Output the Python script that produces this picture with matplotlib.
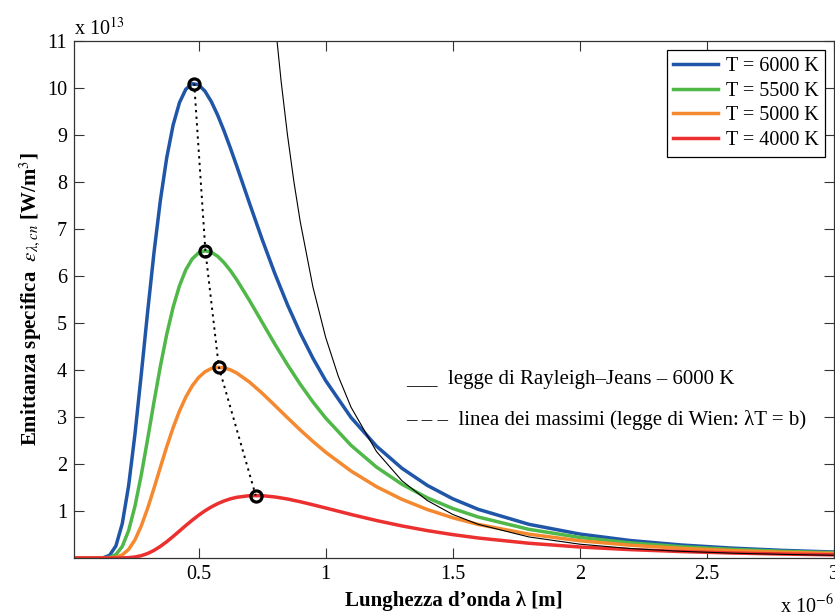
import matplotlib
matplotlib.use("Agg")
import matplotlib.pyplot as plt

plt.rcParams['font.family'] = ['Liberation Serif', 'DejaVu Serif']
plt.rcParams['mathtext.fontset'] = 'stix'

# wavelength [um] and spectral emittance [1e13 W/m^3]
lam = [0.01, 0.1, 0.125, 0.15, 0.175, 0.2, 0.225, 0.25, 0.275, 0.3, 0.325, 0.35,
       0.375, 0.4, 0.425, 0.45, 0.475, 0.5, 0.525, 0.55, 0.575, 0.6, 0.625, 0.65,
       0.7, 0.75, 0.8, 0.85, 0.9, 0.95, 1.0, 1.1, 1.2, 1.3, 1.4, 1.5, 1.6, 1.8,
       2.0, 2.2, 2.4, 2.6, 2.8, 3.0]

e6000 = [0, 0.0001, 0.0058, 0.0568, 0.258, 0.733, 1.541, 2.642, 3.924, 5.254, 6.513, 7.620,
         8.527, 9.217, 9.695, 9.980, 10.098, 10.076, 9.941, 9.719, 9.432, 9.098, 8.733, 8.349,
         7.560, 6.787, 6.059, 5.391, 4.790, 4.254, 3.778, 2.991, 2.382, 1.911, 1.546, 1.261, 1.037, 0.717,
         0.510, 0.371, 0.277, 0.210, 0.162, 0.127]
e5500 = [0, 0, 0.0010, 0.0133, 0.0741, 0.246, 0.585, 1.105, 1.776, 2.540, 3.330, 4.085,
         4.764, 5.339, 5.796, 6.137, 6.366, 6.496, 6.540, 6.511, 6.425, 6.290, 6.122, 5.927,
         5.487, 5.021, 4.556, 4.114, 3.700, 3.322, 2.981, 2.398, 1.936, 1.571, 1.282, 1.054, 0.873, 0.610,
         0.438, 0.321, 0.240, 0.183, 0.142, 0.112]
e5000 = [0, 0, 0.0001, 0.0023, 0.0166, 0.0666, 0.183, 0.388, 0.686, 1.062, 1.488, 1.934,
         2.371, 2.774, 3.129, 3.427, 3.664, 3.841, 3.963, 4.034, 4.060, 4.049, 4.007, 3.939,
         3.748, 3.510, 3.250, 2.986, 2.727, 2.482, 2.253, 1.851, 1.519, 1.249, 1.032, 0.857, 0.715, 0.507,
         0.367, 0.272, 0.205, 0.157, 0.122, 0.097]
e4000 = [0, 0, 0, 0, 0.0003, 0.0018, 0.0075, 0.0218, 0.0501, 0.0965, 0.163, 0.248,
         0.348, 0.459, 0.575, 0.692, 0.804, 0.909, 1.004, 1.086, 1.156, 1.214, 1.259, 1.292,
         1.327, 1.327, 1.300, 1.256, 1.198, 1.133, 1.065, 0.927, 0.798, 0.683, 0.583, 0.498, 0.426, 0.314,
         0.234, 0.178, 0.137, 0.106, 0.084, 0.067]

# Rayleigh-Jeans curve at 6000 K
rj_lam = [0.8, 0.825, 0.85, 0.875, 0.9, 0.95, 1.0, 1.05, 1.1, 1.2, 1.3, 1.4, 1.5, 1.6,
          1.8, 2.0, 2.2, 2.4, 2.6, 2.8, 3.0]
rj_val = [11.475, 10.146, 9.004, 8.018, 7.164, 5.770, 4.700, 3.867, 3.210, 2.267, 1.646,
          1.223, 0.928, 0.717, 0.448, 0.294, 0.201, 0.142, 0.103, 0.077, 0.058]

# maxima (Wien)
peak_lam = [0.483, 0.527, 0.580, 0.725]
peak_val = [10.10, 6.54, 4.06, 1.33]

labels = ['T = 6000 K', 'T = 5500 K', 'T = 5000 K', 'T = 4000 K']
colors = ['#1f56a8', '#4fb848', '#f5892f', '#ec2f2f']

fig = plt.figure(figsize=(8.35, 6.14), dpi=100)
ax = fig.add_axes([0.0886, 0.0912, 0.9102, 0.8415])

for y, lab, c in zip([e6000, e5500, e5000, e4000], labels, colors):
    ax.plot(lam, y, color=c, lw=2.5, label=lab, solid_joinstyle='round')

ax.plot(rj_lam, rj_val, color='black', lw=0.8)
ax.plot(peak_lam, peak_val, color='black', ls=(0, (1.2, 2.2)), lw=1.4)
ax.plot(peak_lam, peak_val, ls='none', marker='o', ms=8, mew=2.3,
        mfc='none', mec='black')

ax.set_xlim(0.01, 3.0)
ax.set_ylim(0, 11)
ax.set_xticks([0.5, 1, 1.5, 2, 2.5, 3])
ax.set_xticklabels(['0.5', '1', '1.5', '2', '2.5', '3'])
ax.set_yticks(range(1, 12))
ax.tick_params(direction='in', length=7, width=0.8, labelsize=14.5,
               top=True, right=True, pad=5, colors='#333333', labelcolor='black')
for s in ax.spines.values():
    s.set_color('#333333')
    s.set_linewidth(0.9)

ax.text(0.0, 1.003, r'x 10$^{13}$', transform=ax.transAxes, fontsize=14.5,
        ha='left', va='bottom')
ax.text(1.0, -0.072, r'x 10$^{-6}$', transform=ax.transAxes, fontsize=14.5,
        ha='right', va='top')

ax.set_xlabel('Lunghezza d\u2019onda \u03bb [m]', fontsize=15, fontweight='bold', labelpad=5)
ax.set_ylabel(r'Emittanza specifica  $\varepsilon_{\lambda,cn}$ [W/m$^3$]',
              fontsize=15, fontweight='bold', labelpad=3)

ax.text(1.318, 3.79, '___  legge di Rayleigh\u2013Jeans \u2013 6000 K', fontsize=15,
        ha='left', va='center')
ax.text(1.318, 2.94, '\u2013 \u2013 \u2013  linea dei massimi (legge di Wien: \u03bbT = b)',
        fontsize=15, ha='left', va='center')

leg = ax.legend(loc='upper right', fontsize=14.5, handlelength=2.2, fancybox=False,
                edgecolor='black', framealpha=1, borderaxespad=0.45,
                labelspacing=0.28, handletextpad=0.4, borderpad=0.32)
leg.get_frame().set_linewidth(0.9)

fig.savefig('out.png', dpi=100)
